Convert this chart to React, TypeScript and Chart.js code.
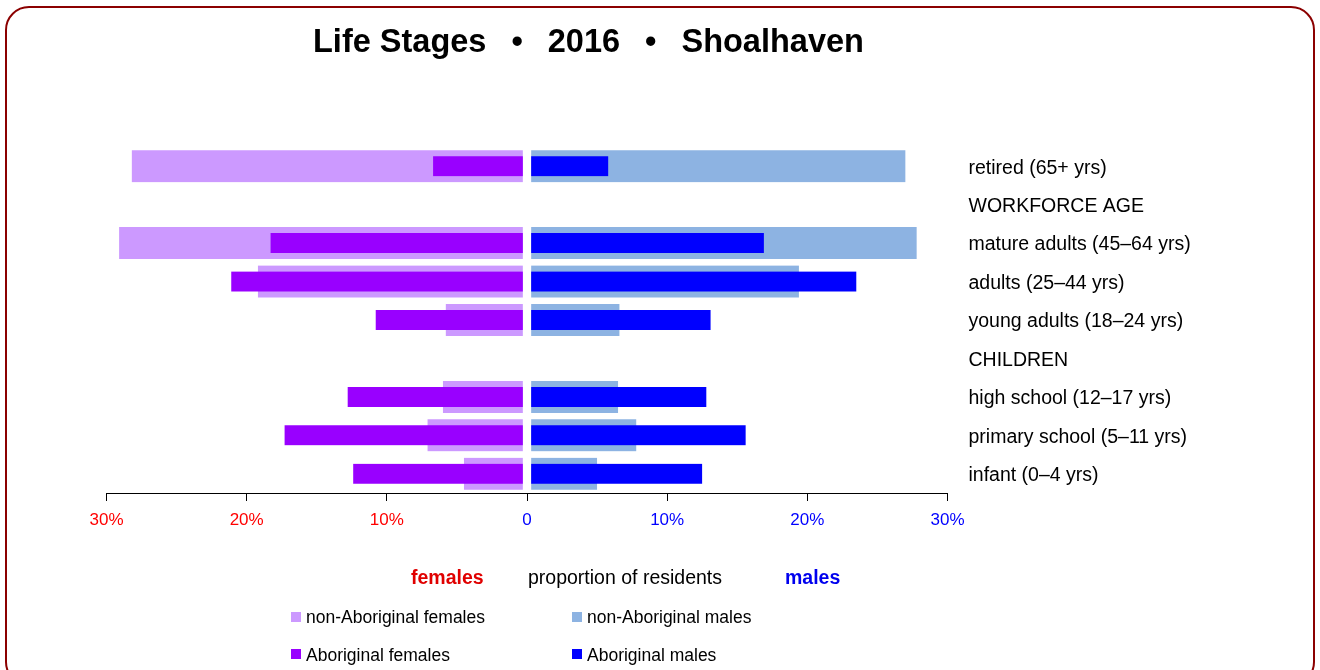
import React, { useEffect, useRef } from "react";
import { Chart, registerables } from "chart.js";

Chart.register(...registerables);

const categories = [
  "retired (65+ yrs)",
  "WORKFORCE AGE",
  "mature adults (45–64 yrs)",
  "adults (25–44 yrs)",
  "young adults (18–24 yrs)",
  "CHILDREN",
  "high school (12–17 yrs)",
  "primary school (5–11 yrs)",
  "infant (0–4 yrs)",
];
const nonAboriginalFemales = [28.2, null, 29.1, 19.2, 5.8, null, 6.0, 7.1, 4.5];
const aboriginalFemales = [6.7, null, 18.3, 21.1, 10.8, null, 12.8, 17.3, 12.4];
const nonAboriginalMales = [27.0, null, 27.8, 19.4, 6.6, null, 6.5, 7.8, 5.0];
const aboriginalMales = [5.8, null, 16.9, 23.5, 13.1, null, 12.8, 15.6, 12.5];
const axisMin = -30;
const axisMax = 30;
const axisStep = 10;

const seriesNames = {
  nonAbF: "non-Aboriginal females",
  abF: "Aboriginal females",
  nonAbM: "non-Aboriginal males",
  abM: "Aboriginal males",
};
const colors = {
  nonAbF: "#cc99ff",
  abF: "#9900ff",
  nonAbM: "#8db3e2",
  abM: "#0000ff",
  femaleText: "#ff0000",
  maleText: "#0000ff",
  frame: "#8b0000",
};

const FONT = "'Liberation Sans', Arial, sans-serif";

const neg = (arr: (number | null)[]) => arr.map((v) => (v == null ? null : -v));

function Text(props: {
  x: number;
  baseline: number;
  size: number;
  bold?: boolean;
  color?: string;
  children: React.ReactNode;
}) {
  const { x, baseline, size, bold, color, children } = props;
  return (
    <div
      style={{
        position: "absolute",
        left: x,
        top: baseline - 0.8465 * size,
        fontFamily: FONT,
        fontSize: size,
        lineHeight: `${size}px`,
        fontWeight: bold ? "bold" : "normal",
        color: color || "#000",
        whiteSpace: "pre",
      }}
    >
      {children}
    </div>
  );
}

function Swatch(props: { x: number; y: number; color: string }) {
  return (
    <div
      style={{
        position: "absolute",
        left: props.x,
        top: props.y,
        width: 10,
        height: 10,
        background: props.color,
      }}
    />
  );
}

export default function App() {
  const canvasRef = useRef<HTMLCanvasElement | null>(null);

  useEffect(() => {
    const canvas = canvasRef.current;
    if (!canvas) return;
    const femaleGap = { top: 0, bottom: 0, left: 0, right: 4 };
    const maleGap = { top: 0, bottom: 0, left: 4, right: 0 };
    const chart = new Chart(canvas, {
      type: "bar",
      data: {
        labels: categories,
        datasets: [
          {
            label: seriesNames.abF,
            data: neg(aboriginalFemales),
            backgroundColor: colors.abF,
            barThickness: 20,
            grouped: false,
            order: 0,
            borderWidth: femaleGap,
            borderColor: "rgba(0,0,0,0)",
            borderSkipped: false,
          },
          {
            label: seriesNames.abM,
            data: aboriginalMales,
            backgroundColor: colors.abM,
            barThickness: 20,
            grouped: false,
            order: 0,
            borderWidth: maleGap,
            borderColor: "rgba(0,0,0,0)",
            borderSkipped: false,
          },
          {
            label: seriesNames.nonAbF,
            data: neg(nonAboriginalFemales),
            backgroundColor: colors.nonAbF,
            barThickness: 32,
            grouped: false,
            order: 1,
            borderWidth: femaleGap,
            borderColor: "rgba(0,0,0,0)",
            borderSkipped: false,
          },
          {
            label: seriesNames.nonAbM,
            data: nonAboriginalMales,
            backgroundColor: colors.nonAbM,
            barThickness: 32,
            grouped: false,
            order: 1,
            borderWidth: maleGap,
            borderColor: "rgba(0,0,0,0)",
            borderSkipped: false,
          },
        ] as any,
      },
      options: {
        indexAxis: "y",
        animation: false,
        responsive: false,
        devicePixelRatio: 1,
        layout: { padding: { left: 106.5, top: 147, right: 72.5, bottom: 117 } },
        plugins: {
          legend: { display: false },
          tooltip: { enabled: false },
          title: { display: false },
        },
        scales: {
          x: {
            type: "linear",
            position: "bottom",
            min: axisMin,
            max: axisMax,
            ticks: {
              stepSize: axisStep,
              autoSkip: false,
              maxRotation: 0,
              padding: 9,
              font: { family: FONT, size: 17 },
              color: (ctx: any) => (ctx.tick && ctx.tick.value < 0 ? colors.femaleText : colors.maleText),
              callback: (v: any) => (Number(v) === 0 ? "0" : Math.abs(Number(v)) + "%"),
            },
            grid: {
              display: true,
              drawOnChartArea: false,
              drawTicks: true,
              tickLength: 8,
              tickColor: "#000",
              tickWidth: 1,
              color: "#000",
            },
            border: { display: true, color: "#000", width: 1 },
            afterFit: (s: any) => {
              s.height = 60;
            },
          },
          y: {
            type: "category",
            position: "right",
            offset: true,
            grid: { display: false, drawTicks: false },
            border: { display: false },
            ticks: {
              autoSkip: false,
              padding: 21,
              labelOffset: 2,
              color: "#000",
              font: { family: FONT, size: 19.5 },
            },
            afterFit: (s: any) => {
              s.width = 300;
            },
          },
        },
      } as any,
    });
    return () => chart.destroy();
  }, []);

  return (
    <div
      style={{
        position: "absolute",
        left: 0,
        top: 0,
        width: 1320,
        height: 670,
        overflow: "hidden",
        background: "#fff",
      }}
    >
      <div
        style={{
          position: "absolute",
          left: 5,
          top: 6,
          width: 1310,
          height: 680,
          border: `2px solid ${colors.frame}`,
          borderRadius: 24,
          boxSizing: "border-box",
        }}
      />
      <canvas
        ref={canvasRef}
        width={1320}
        height={670}
        style={{ position: "absolute", left: 0, top: 0, width: 1320, height: 670 }}
      />
      <div
        style={{
          position: "absolute",
          left: 313,
          top: 53 - 0.8465 * 32.5,
          fontFamily: FONT,
          fontSize: 32.5,
          lineHeight: "32.5px",
          fontWeight: "bold",
          color: "#000",
          whiteSpace: "pre",
        }}
      >
        <span>Life Stages</span>
        <span style={{ margin: "0 25px" }}>•</span>
        <span>2016</span>
        <span style={{ margin: "0 25px" }}>•</span>
        <span>Shoalhaven</span>
      </div>

      <Text x={411} baseline={585} size={19.5} bold color="#e00000">
        females
      </Text>
      <Text x={528} baseline={585} size={19.5}>
        proportion of residents
      </Text>
      <Text x={785} baseline={585} size={19.5} bold color="#0000ee">
        males
      </Text>

      <Swatch x={291} y={612} color={colors.nonAbF} />
      <Text x={306} baseline={624} size={17.5}>
        {seriesNames.nonAbF}
      </Text>
      <Swatch x={572} y={612} color={colors.nonAbM} />
      <Text x={587} baseline={624} size={17.5}>
        {seriesNames.nonAbM}
      </Text>
      <Swatch x={291} y={649} color={colors.abF} />
      <Text x={306} baseline={662} size={17.5}>
        {seriesNames.abF}
      </Text>
      <Swatch x={572} y={649} color={colors.abM} />
      <Text x={587} baseline={662} size={17.5}>
        {seriesNames.abM}
      </Text>
    </div>
  );
}
